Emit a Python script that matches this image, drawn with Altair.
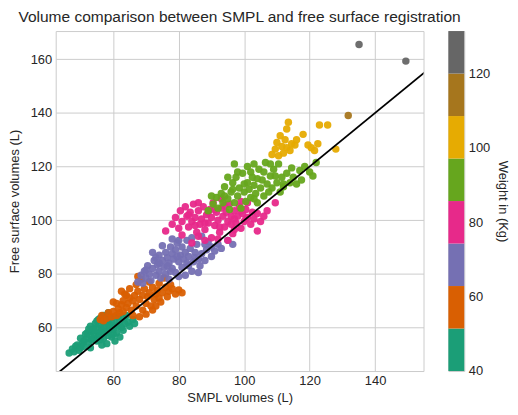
import altair as alt
import pandas as pd

TITLE = "Volume comparison between SMPL and free surface registration"
X_TITLE = "SMPL volumes (L)"
Y_TITLE = "Free surface volumes (L)"
CBAR_TITLE = "Weight in (Kg)"

DARK2 = ["#1b9e77", "#d95f02", "#7570b3", "#e7298a",
         "#66a61e", "#e6ab02", "#a6761d", "#666666"]
W_MIN, W_MAX = 40.0, 131.4
X_DOMAIN = [42.4, 154.8]
Y_DOMAIN = [43.8, 170.5]
AXIS_TICKS_X = [60, 80, 100, 120, 140]
AXIS_TICKS_Y = [60, 80, 100, 120, 140, 160]
CBAR_TICKS = [40, 60, 80, 100, 120]

# (SMPL volume, free surface volume) per weight group
teal_pts = [(46.5, 50.5), (47.5, 52), (48, 51), (48.5, 53), (49, 53.5), (49.5, 51.5), (50, 52.5), (50, 56),
            (50.5, 54), (51, 55), (51, 53), (51.5, 57.5), (52, 56), (52, 58), (52.5, 54.5), (53, 57),
            (53, 60.5), (53.5, 58.5), (53.5, 55.5), (54, 56), (54, 59.5), (54.5, 57.5), (54.5, 61.5),
            (55, 60), (55, 55), (55, 62.5), (55.5, 58), (55.5, 56.5), (56, 61), (56, 57), (56, 63.5),
            (56.5, 59.5), (56.5, 58.5), (57, 62), (57, 56), (57, 64.5), (57.5, 60), (57.5, 58), (58, 63),
            (58, 58.5), (58, 54), (58.5, 61), (58.5, 65.5), (59, 59), (59, 61), (59.5, 62), (59.5, 56.5),
            (60, 60.5), (60, 57.5), (60.5, 63.5), (60.5, 55), (61, 61), (61, 58), (61.5, 64), (62, 62),
            (62, 56.5), (62.5, 60), (63, 63.5), (63.5, 61.5), (64, 64.5), (64.5, 62), (65, 60.5),
            (66, 63), (66.5, 61.5), (54, 59), (56.5, 53.5), (52.5, 59.5), (55.5, 63), (57.5, 62.5),
            (59, 63.5), (61.5, 60.5), (63, 59), (58.5, 57), (60, 59.5), (56, 55.5), (53, 52.5)]
orange_pts = [(56, 63), (56.5, 64.5), (57, 62.5), (58, 63.5), (58.5, 65.5), (59.5, 64), (60, 66), (60, 69.5),
              (61, 64.5), (61, 69), (61.5, 67), (62, 65.5), (62.5, 68.5), (62.5, 73.5), (63, 66), (63, 70),
              (63.5, 72.5), (64, 67.5), (64, 72), (64.5, 69), (65, 71), (65, 74.5), (65.5, 66.5), (66, 70),
              (66, 64.5), (66.5, 72), (67, 68), (67, 76), (67.5, 73.5), (68, 70.5), (68, 64), (68.5, 78),
              (69, 72), (69, 66.5), (69.5, 74.5), (70, 69), (70, 65), (70.5, 71.5), (71, 73), (71, 77),
              (71.5, 68), (72, 75), (72, 66.5), (72.5, 70.5), (73, 72.5), (73, 68), (73.5, 74), (74, 76.5),
              (74, 71), (74.5, 69.5), (75, 73), (75.5, 78.5), (76, 75), (76.5, 71.5), (77, 73.5), (77.5, 76),
              (78, 74.5), (79, 72.5), (80, 74), (81, 73), (67.5, 79)]
purple_pts = [(67.5, 77), (68.5, 79.5), (69, 76.5), (69.5, 81), (70, 78.5), (70.5, 83), (71, 80), (71.5, 77.5),
              (72, 82), (72.5, 85), (73, 79.5), (73.5, 83.5), (74, 81), (74, 87), (74.5, 78.5), (75, 85),
              (75.5, 82.5), (76, 88), (76, 80), (76.5, 86), (77, 84), (77.5, 90), (78, 82), (78, 87.5),
              (78.5, 85.5), (79, 89), (79, 80.5), (79.5, 91.5), (80, 84.5), (80.5, 87), (81, 82.5), (81, 90),
              (81.5, 85.5), (82, 88), (82.5, 92.5), (83, 83), (83, 86.5), (83.5, 89.5), (84, 81), (84.5, 84.5),
              (85, 88), (85.5, 91), (86, 85.5), (86.5, 83), (87, 87.5), (88, 85), (88.5, 89), (89, 92),
              (90, 86.5), (91, 88.5), (92, 91), (93, 89.5), (95, 92.5), (96.5, 91), (72, 88), (75, 90.5),
              (80, 92.5), (78, 93), (84, 93.5), (87, 94), (82, 79.5), (77, 78), (86, 80.5), (90, 90),
              (70, 81.5), (73, 86), (76.5, 83), (79.5, 86.5), (82.5, 84), (85, 86), (88, 91), (80, 79),
              (74, 84), (77.5, 81)]
pink_pts = [(76, 96), (78, 98.5), (79, 101), (80, 97), (80.5, 103.5), (81, 99.5), (82, 105), (82.5, 101.5),
            (83, 97.5), (83.5, 103), (84, 99.5), (84.5, 106), (85, 101), (85.5, 95.5), (86, 103.5),
            (86.5, 98.5), (87, 100.5), (87.5, 105), (88, 96.5), (88.5, 102), (89, 99), (89.5, 104),
            (90, 101), (90, 93.5), (90.5, 106.5), (91, 98), (91.5, 103), (92, 100), (92.5, 95.5),
            (93, 104.5), (93.5, 101.5), (94, 97.5), (94.5, 103), (95, 99.5), (95.5, 106), (96, 101.5),
            (96.5, 95), (97, 103.5), (97.5, 99), (98, 101.5), (98.5, 105), (99, 97), (99.5, 102.5),
            (100, 99.5), (100.5, 104), (101, 101), (102, 98.5), (102.5, 103), (103, 100.5), (104, 102.5),
            (105, 99.5), (106, 101.5), (107, 103.5), (109.5, 106.5), (84, 91.5), (88, 92.5), (92, 93),
            (95, 92.5), (86, 94), (81, 94.5), (97, 96.5), (104, 96), (99, 107), (93, 108), (101, 106.5),
            (83, 102), (86, 106.5), (89, 103), (91, 104), (94, 105.5), (97, 100.5), (99, 103.5), (88, 99),
            (85, 98), (92.5, 97.5), (100.5, 100.5), (96, 98.5)]
green_pts = [(89, 103.5), (90.5, 106), (91.5, 108.5), (92, 104.5), (93, 110), (93.5, 106.5), (94, 112.5),
             (95, 108), (95.5, 104), (96, 110.5), (96.5, 114), (97, 106.5), (97.5, 116), (98, 109),
             (98.5, 112), (99, 104.5), (99.5, 117.5), (100, 110.5), (100.5, 107), (101, 114), (101, 120),
             (101.5, 111.5), (102, 108.5), (102.5, 116), (103, 113), (103, 121), (103.5, 110), (104, 106.5),
             (104.5, 119), (105, 112), (105.5, 115), (106, 109), (106.5, 121.5), (107, 113.5), (107.5, 110.5),
             (108, 116.5), (108.5, 112), (109, 119), (110, 114), (110.5, 121), (111, 110.5), (111.5, 116),
             (112, 112.5), (113, 117.5), (114, 114), (115, 116), (116, 113.5), (117, 118.5), (117.5, 115),
             (118.5, 120), (120, 118), (121, 116.5), (122, 121.5), (98, 118), (95, 116), (97, 121),
             (112, 113.5), (90, 109), (100, 113.5), (102, 118), (104, 115.5), (106, 118), (108, 121),
             (109.5, 116.5), (96.5, 111.5), (94, 109), (103, 108), (114.5, 119.5)]
yellow_pts = [(108.5, 124.5), (109.5, 126.5), (110, 129), (110.5, 124), (111, 131.5), (111.5, 127.5),
              (112, 125), (112.5, 130), (113, 127), (113, 134), (113.5, 136.5), (114, 126), (114.5, 128.5),
              (115.5, 128), (116, 130), (119.5, 128), (120.5, 127), (121.5, 126), (122.5, 128.5),
              (123, 135.5), (125.5, 135.5), (128, 126.5), (118, 132)]
brown_pts = [(131.8, 139)]
gray_pts = [(135.1, 165.5), (149.4, 159.3)]

groups = [(teal_pts, 46), (orange_pts, 57), (purple_pts, 69), (pink_pts, 80),
          (green_pts, 92), (yellow_pts, 103), (brown_pts, 115), (gray_pts, 126)]

rows = []
for pts, w in groups:
    for x, y in pts:
        rows.append({"smpl": x, "free": y, "weight": w})
df = pd.DataFrame(rows)

line_df = pd.DataFrame({"smpl": [40, 160], "free": [40, 160]})

nb = len(DARK2)
step = (W_MAX - W_MIN) / nb
cbar_df = pd.DataFrame({
    "lo": [W_MIN + i * step for i in range(nb)],
    "hi": [W_MIN + (i + 1) * step for i in range(nb)],
    "col": DARK2,
})

PLOT_W, PLOT_H = 370, 342

xs = alt.Scale(domain=X_DOMAIN, nice=False, zero=False)
ys = alt.Scale(domain=Y_DOMAIN, nice=False, zero=False)

points = alt.Chart(df).mark_circle(size=56, opacity=0.95).encode(
    x=alt.X("smpl:Q", scale=xs, title=X_TITLE,
            axis=alt.Axis(values=AXIS_TICKS_X, labelPadding=4, titlePadding=4)),
    y=alt.Y("free:Q", scale=ys, title=Y_TITLE,
            axis=alt.Axis(values=AXIS_TICKS_Y, labelPadding=4, titlePadding=8.3)),
    color=alt.Color("weight:Q", legend=None,
                    scale=alt.Scale(type="quantize", domain=[W_MIN, W_MAX], range=DARK2, nice=False)),
)

line = alt.Chart(line_df).mark_line(color="black", strokeWidth=1.8, clip=True).encode(
    x=alt.X("smpl:Q", scale=xs),
    y=alt.Y("free:Q", scale=ys),
)

main = alt.layer(points, line).properties(width=PLOT_W, height=PLOT_H)

cbar = alt.Chart(cbar_df).mark_rect().encode(
    x=alt.value(0), x2=alt.value(16),
    y=alt.Y("lo:Q", scale=alt.Scale(domain=[W_MIN, W_MAX], nice=False, zero=False),
            axis=alt.Axis(orient="right", values=CBAR_TICKS, grid=False, labelPadding=4,
                          titlePadding=6, title=CBAR_TITLE)),
    y2="hi:Q",
    color=alt.Color("col:N", scale=None),
).properties(width=16, height=PLOT_H)

chart = alt.hconcat(main, cbar, spacing=23).properties(
    title=alt.TitleParams(TITLE, anchor="start", dx=10, fontSize=15.6, fontWeight="normal",
                          color="#262626", offset=5),
    padding={"left": 0, "top": 0, "right": 0, "bottom": 0},
).configure(
    font="Liberation Sans",
).configure_axis(
    gridColor="#cccccc", gridWidth=1, domain=False, ticks=False, tickSize=0,
    labelFontSize=13, titleFontSize=13, titleFontWeight="normal",
    labelColor="#262626", titleColor="#262626",
).configure_view(
    stroke="#cccccc", strokeWidth=1,
)

chart.save("out.html", embed_options={"renderer": "svg", "actions": False})
